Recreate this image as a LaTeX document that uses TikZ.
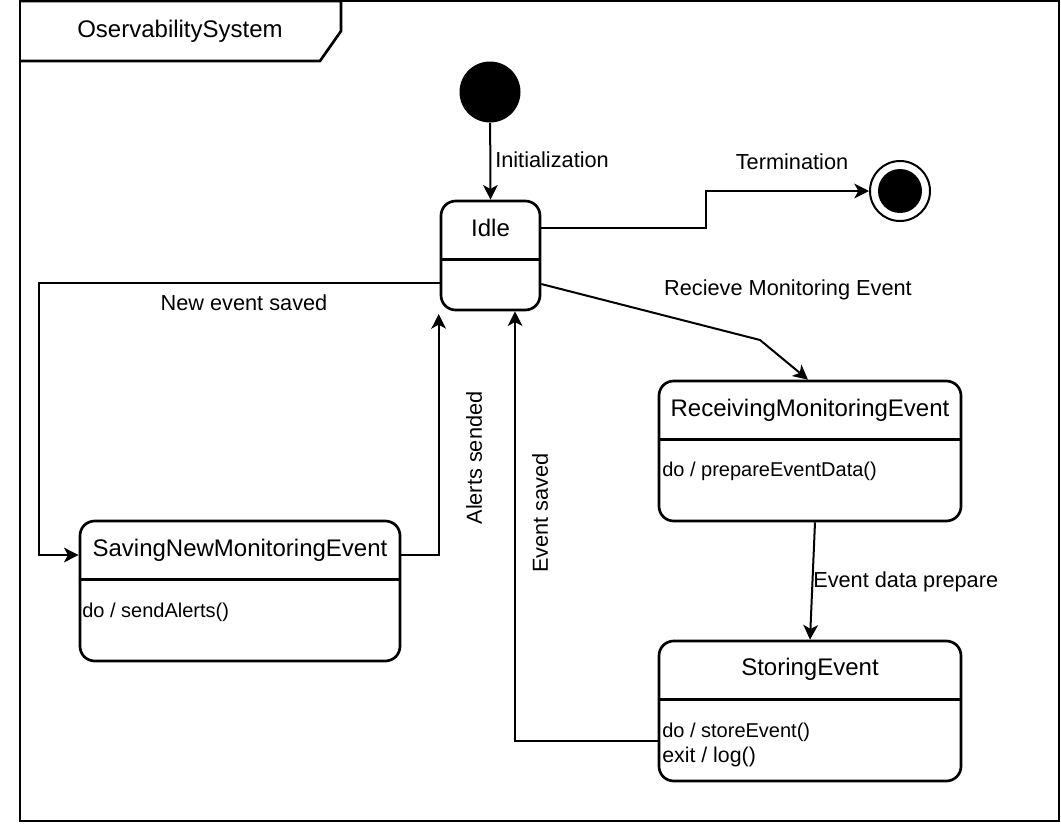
\documentclass[tikz,border=0pt]{standalone}
\usepackage{fontspec}
\setmainfont{Liberation Sans}
\usetikzlibrary{arrows.meta,calc}
\begin{document}
\begin{tikzpicture}[x=0.75pt,y=-0.75pt,
  statebox/.style={draw, line width=2pt, rounded corners=11pt, fill=white, inner sep=0pt},
  divider/.style={line width=2pt},
  titletext/.style={font=\fontsize{18pt}{21pt}\selectfont, inner sep=0pt},
  bodytext/.style={font=\fontsize{15pt}{18pt}\selectfont, inner sep=0pt, anchor=west},
  lbl/.style={font=\fontsize{16.3pt}{19pt}\selectfont, inner sep=0pt},
  conn/.style={line width=1.5pt, -{Stealth[length=11pt,width=11pt,inset=3pt]}},
  plain/.style={line width=1.5pt}]
\useasboundingbox (0,0) rectangle (1061,839);

% frame
\draw[line width=2pt] (20,1) rectangle (1059,821);
\draw[line width=2pt] (20,1) -- (341,1) -- (341,31) -- (320,61) -- (20,61);
\node[titletext] (frameT) at (180,31) {OservabilitySystem};

% pseudo states
\node[circle, fill=black, minimum size=45.75pt, inner sep=0pt] (init) at (490,92) {};
\node[circle, draw, line width=1.5pt, fill=white, minimum size=45pt, inner sep=0pt] (final) at (900,191) {};
\node[circle, fill=black, minimum size=33pt, inner sep=0pt] (finalIn) at (900,191) {};

% states
\node[statebox, minimum width=74.25pt, minimum height=81.75pt] (idle) at (490.5,255.5) {};
\draw[divider] ([yshift=-45pt]idle.north west) -- ([yshift=-45pt]idle.north east);
\node[titletext] (idleT) at (490.5,228) {Idle};

\node[statebox, minimum width=226.5pt, minimum height=105pt] (recv) at (810,451) {};
\draw[divider] ([yshift=-45pt]recv.north west) -- ([yshift=-45pt]recv.north east);
\node[titletext] (recvT) at (810,410) {ReceivingMonitoringEvent};
\node[bodytext] (recvB) at (662,471) {do / prepareEventData()};

\node[statebox, minimum width=226.5pt, minimum height=105pt] (store) at (810,711) {};
\draw[divider] ([yshift=-45pt]store.north west) -- ([yshift=-45pt]store.north east);
\node[titletext] (storeT) at (810,669) {StoringEvent};
\node[bodytext] (storeB) at (662,732) {do / storeEvent()};
\node[bodytext, font=\fontsize{16pt}{19pt}\selectfont] (storeX) at (662,757) {exit / log()};

\node[statebox, minimum width=240pt, minimum height=105pt] (save) at (240,591) {};
\draw[divider] ([yshift=-45pt]save.north west) -- ([yshift=-45pt]save.north east);
\node[titletext] (saveT) at (240,550) {SavingNewMonitoringEvent};
\node[bodytext] (saveB) at (82,612) {do / sendAlerts()};

% connectors
\draw[conn] (init) -- (idle.north);
\draw[conn] ([yshift=20.6pt]idle.east) -- ++(165,0) |- (final.west);
\coordinate (bend) at (760,340);
\draw[conn] ([yshift=-21.4pt]idle.east) -- (bend) -- ([xshift=-1.5pt]recv.north);
\draw[conn] ([xshift=3.75pt]recv.south) -- (store.north);
\draw[conn] ([yshift=-22.5pt]store.west) -| ([xshift=18.4pt]idle.south);
\draw[conn] ([yshift=27pt]save.east) -| ([xshift=-0.75pt,yshift=-2pt]idle.south west);
\draw[conn] ([yshift=-20.6pt]idle.west) -- ++(-401,0) |- ([yshift=27pt]save.west);

% labels
\node[lbl, anchor=west] (lInit) at (495,160) {Initialization};
\node[lbl] (lTerm) at (792,162) {Termination};
\node[lbl] (lRecv) at (788,290) {Recieve Monitoring Event};
\node[lbl] (lNew) at (244,303) {New event saved};
\node[lbl, rotate=90] (lAlert) at (474,458) {Alerts sended};
\node[lbl, rotate=90] (lSaved) at (540,513) {Event saved};
\node[lbl, anchor=west] (lPrep) at (813,582) {Event data prepare};
\end{tikzpicture}
\end{document}
